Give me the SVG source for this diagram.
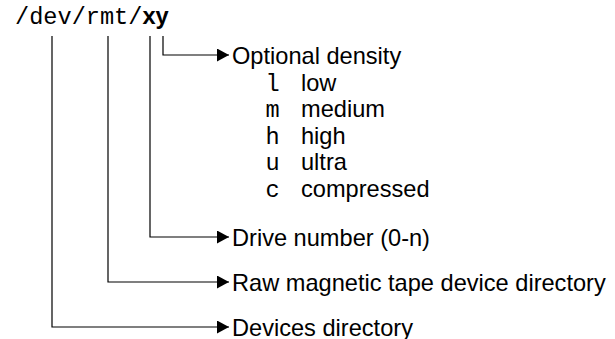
<svg xmlns="http://www.w3.org/2000/svg" width="615" height="339" viewBox="0 0 615 339">
<style>
.mono{font-family:"Liberation Mono","Courier New",monospace;font-size:23.6px;fill:#000}
.sans{font-family:"Liberation Sans",Arial,Helvetica,sans-serif;font-size:23.6px;fill:#000}
.bold{font-weight:bold}
.conn{fill:none;stroke:#000;stroke-width:1.2}
</style>
<defs>
<marker id="arr" markerUnits="userSpaceOnUse" markerWidth="12" markerHeight="13" refX="12" refY="6.5" orient="auto">
<path d="M0,0 L12,6.5 L0,13 Z" fill="#000"/>
</marker>
</defs>
<rect width="615" height="339" fill="#fff"/>
<g id="connectors">
<path class="conn" d="M163,36 V55 H229" marker-end="url(#arr)"/>
<path class="conn" d="M150,36 V237 H229" marker-end="url(#arr)"/>
<path class="conn" d="M108,36 V282 H229" marker-end="url(#arr)"/>
<path class="conn" d="M52,36 V327 H229" marker-end="url(#arr)"/>
</g>
<g id="path-title">
<text x="15" y="24.3"><tspan class="mono">/dev/rmt/</tspan><tspan class="sans bold">xy</tspan></text>
</g>
<g id="optional-density">
<text class="sans" x="232" y="63.5">Optional density</text>
<text class="mono" x="265.5" y="90.5">l</text><text class="sans" x="301" y="90.5">low</text>
<text class="mono" x="265.5" y="117">m</text><text class="sans" x="301" y="117">medium</text>
<text class="mono" x="265.5" y="143.5">h</text><text class="sans" x="301" y="143.5">high</text>
<text class="mono" x="265.5" y="170">u</text><text class="sans" x="301" y="170">ultra</text>
<text class="mono" x="265.5" y="196.5">c</text><text class="sans" x="301" y="196.5">compressed</text>
</g>
<g id="drive-number">
<text class="sans" x="232" y="245.5">Drive number (0-n)</text>
</g>
<g id="raw-tape-dir">
<text class="sans" x="232" y="290.5">Raw magnetic tape device directory</text>
</g>
<g id="devices-dir">
<text class="sans" x="232" y="335.5">Devices directory</text>
</g>
</svg>
